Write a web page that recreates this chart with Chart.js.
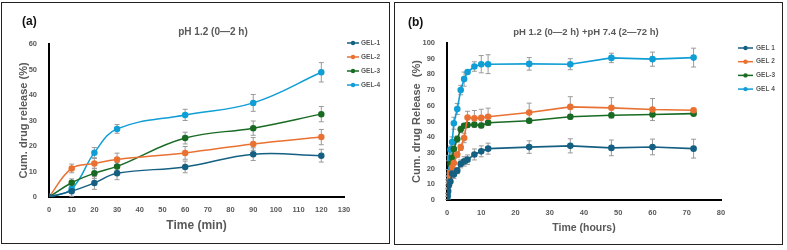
<!DOCTYPE html>
<html>
<head>
<meta charset="utf-8">
<script src="https://cdn.jsdelivr.net/npm/chart.js@4/dist/chart.umd.min.js"></script>
<style>
  body { margin: 0; background: #fff; width: 787px; height: 250px; position: relative; overflow: hidden; font-family: "Liberation Sans", Arial, sans-serif; }
  .box { position: absolute; border: 1.5px solid #222; box-sizing: border-box; }
  .cv { position: absolute; top: 0; }
  .lbl { position: absolute; font-weight: bold; font-size: 12px; color: #111; }
  .ttl { position: absolute; font-weight: bold; color: #595959; white-space: nowrap; transform: translateX(-50%); }
</style>
</head>
<body>
<div class="box" style="left:1px;top:2px;width:389px;height:242px"></div>
<div class="box" style="left:394px;top:2px;width:389px;height:243px"></div>
<div class="cv" style="left:0;width:393px;height:250px"><canvas id="chartA"></canvas></div>
<div class="cv" style="left:393px;width:394px;height:250px"><canvas id="chartB"></canvas></div>
<div class="lbl" style="left:22px;top:14px">(a)</div>
<div class="lbl" style="left:408px;top:15px">(b)</div>
<div class="ttl" style="left:213px;top:26px;font-size:10px">pH 1.2 (0—2 h)</div>
<div class="ttl" style="left:586px;top:26px;font-size:9.5px">pH 1.2 (0—2 h) +pH 7.4 (2—72 h)</div>
<script>
// panel (a): minutes
const timeMin = [0, 10, 20, 30, 60, 90, 120];
const gel1A = [0, 2.3, 5.5, 9.3, 11.8, 16.8, 16.2];
const gel2A = [0, 11.2, 13.1, 14.7, 17.3, 20.8, 23.5];
const gel3A = [0, 5.6, 9.3, 12.0, 23.1, 27.0, 32.5];
const gel4A = [0, 3.2, 17.4, 26.7, 32.2, 36.9, 48.9];
const err1A = [0, 2, 2.5, 2.5, 2.3, 2.5, 2.5];
const err2A = [0, 1.7, 2, 2.5, 2.5, 2.5, 3];
const err3A = [0, 1.5, 2, 1.5, 2.3, 2.8, 3];
const err4A = [0, 1, 2, 1.7, 2.2, 3.3, 3.8];
const labelsA = ["GEL-1", "GEL-2", "GEL-3", "GEL-4"];

// panel (b): hours
const timeHr = [0, 1/6, 1/3, 0.5, 1, 1.5, 2, 3, 4, 5, 6, 8, 10, 12, 24, 36, 48, 60, 72];
const gel1B = [0, 2.3, 5.5, 9.3, 11.8, 16.8, 16.2, 18.7, 23, 24.6, 25.7, 29, 31, 32.7, 33.7, 34.5, 33.2, 33.8, 32.7];
const gel2B = [0, 11.2, 13.1, 14.7, 17.3, 20.8, 23.5, 29, 33.5, 39.5, 52.5, 52, 52.3, 53, 55.7, 59.3, 58.7, 57.6, 57.2];
const gel3B = [0, 5.6, 9.3, 12.0, 23.1, 27.0, 32.5, 38.8, 45, 47.3, 47.8, 48, 47.5, 49.2, 50.5, 53, 54, 54.5, 55];
const gel4B = [0, 3.2, 17.4, 26.7, 32.2, 36.9, 48.9, 58, 70, 77, 81.5, 85, 86.5, 86.5, 86.7, 86.5, 90.5, 89.7, 90.7];
const err1B = [0, 2, 2.5, 2.5, 2.3, 2.5, 2.5, 2, 2.5, 3, 3, 3.5, 3.5, 3.5, 4, 4.5, 5, 5, 6];
const err2B = [0, 1.7, 2, 2.5, 2.5, 2.5, 3, 2, 2, 3, 4, 5, 5.5, 5.5, 6, 6.5, 6.5, 7, 1];
const err3B = [0, 1.5, 2, 1.5, 2.3, 2.8, 3, 2, 2, 1.5, 1.5, 1.5, 1.5, 1.5, 1.5, 1.5, 1.5, 1.5, 1];
const err4B = [0, 1, 2, 1.7, 2.2, 3.3, 3.8, 3.5, 3, 4.5, 1, 3, 5.5, 6, 4, 3.5, 3, 4.5, 6];
const labelsB = ["GEL 1", "GEL 2", "GEL-3", "GEL 4"];

const colors = ["#156082", "#E97132", "#196B24", "#0F9ED5"];
const grey = "#595959";
const FONT = "'Liberation Sans', Arial, sans-serif";

const errorBars = {
  id: "errorBars",
  beforeDatasetsDraw(chart, args, opts) {
    const ctx = chart.ctx;
    const xs = chart.scales.x, ys = chart.scales.y;
    ctx.save();
    ctx.strokeStyle = "#9a9a9a";
    ctx.lineWidth = 1;
    chart.data.datasets.forEach(ds => {
      ds.data.forEach((p, i) => {
        const e = ds.errors[i];
        if (!e) return;
        const x = xs.getPixelForValue(p.x);
        const y1 = ys.getPixelForValue(p.y - e), y2 = ys.getPixelForValue(p.y + e);
        ctx.beginPath();
        ctx.moveTo(x, y1); ctx.lineTo(x, y2);
        ctx.moveTo(x - 2.5, y1); ctx.lineTo(x + 2.5, y1);
        ctx.moveTo(x - 2.5, y2); ctx.lineTo(x + 2.5, y2);
        ctx.stroke();
      });
    });
    ctx.restore();
  }
};

const lineLegend = {
  id: "lineLegend",
  afterDraw(chart, args, o) {
    const ctx = chart.ctx;
    ctx.save();
    ctx.font = "bold 6.5px " + FONT;
    ctx.textBaseline = "middle";
    chart.data.datasets.forEach((ds, i) => {
      const y = o.y + i * o.dy;
      ctx.strokeStyle = ds.borderColor;
      ctx.lineWidth = 1.5;
      ctx.beginPath(); ctx.moveTo(o.x1, y); ctx.lineTo(o.x2, y); ctx.stroke();
      ctx.fillStyle = ds.borderColor;
      ctx.beginPath(); ctx.arc((o.x1 + o.x2) / 2, y, 2.2, 0, Math.PI * 2); ctx.fill();
      ctx.fillStyle = grey;
      ctx.fillText(ds.label, o.tx, y);
    });
    ctx.restore();
  }
};

function makeDatasets(xs, series, errs, labels, tension, width) {
  return series.map((s, k) => ({
    label: labels[k],
    data: s.map((v, i) => ({ x: xs[i], y: v })),
    errors: errs[k],
    borderColor: colors[k],
    backgroundColor: colors[k],
    borderWidth: width,
    pointRadius: 2.5,
    pointHoverRadius: 2.5,
    tension: tension
  }));
}

function makeChart(id, cfg) {
  new Chart(document.getElementById(id), {
    type: "line",
    data: { datasets: cfg.datasets },
    plugins: [errorBars, lineLegend],
    options: {
      responsive: true,
      maintainAspectRatio: false,
      animation: false,
      layout: { padding: cfg.pad },
      plugins: {
        legend: { display: false },
        tooltip: { enabled: false },
        lineLegend: cfg.legend
      },
      scales: {
        x: {
          type: "linear", min: 0, max: cfg.xmax,
          grid: { display: false },
          border: { display: true, color: "#000", width: 2 },
          ticks: { stepSize: 10, color: grey, font: { family: FONT, size: 7.5, weight: "bold" }, padding: 0, maxRotation: 0 },
          title: { display: true, text: cfg.xtitle, color: grey, font: { family: FONT, size: cfg.xtSize, weight: "bold" }, padding: { top: cfg.xtPad } },
          afterFit(s) { s.height = cfg.xh; }
        },
        y: {
          min: 0, max: cfg.ymax,
          grid: { display: false },
          border: { display: true, color: "#000", width: 2 },
          ticks: { stepSize: 10, color: grey, font: { family: FONT, size: 7.5, weight: "bold" }, padding: 4 },
          title: { display: true, text: cfg.ytitle, color: grey, font: { family: FONT, size: 11, weight: "bold" }, padding: { bottom: 4 } },
          afterFit(s) { s.width = cfg.yw; }
        }
      }
    }
  });
}

makeChart("chartA", {
  datasets: makeDatasets(timeMin, [gel1A, gel2A, gel3A, gel4A], [err1A, err2A, err3A, err4A], labelsA, 0.4, 1.5),
  pad: { left: 13, right: 49, top: 44, bottom: 13 },
  yw: 36, xh: 40, xmax: 130, ymax: 60,
  xtitle: "Time (min)", xtSize: 12, xtPad: 8,
  ytitle: "Cum. drug release (%)",
  legend: { x1: 347, x2: 359, tx: 361, y: 43, dy: 14 }
});

makeChart("chartB", {
  datasets: makeDatasets(timeHr, [gel1B, gel2B, gel3B, gel4B], [err1B, err2B, err3B, err4B], labelsB, 0, 1.6),
  pad: { left: 13, right: 66, top: 43, bottom: 12 },
  yw: 41, xh: 38, xmax: 80, ymax: 100,
  xtitle: "Time (hours)", xtSize: 10.5, xtPad: 10,
  ytitle: "Cum. drug Release  (%)",
  legend: { x1: 345, x2: 360, tx: 363, y: 48, dy: 13.7 }
});
</script>
</body>
</html>
